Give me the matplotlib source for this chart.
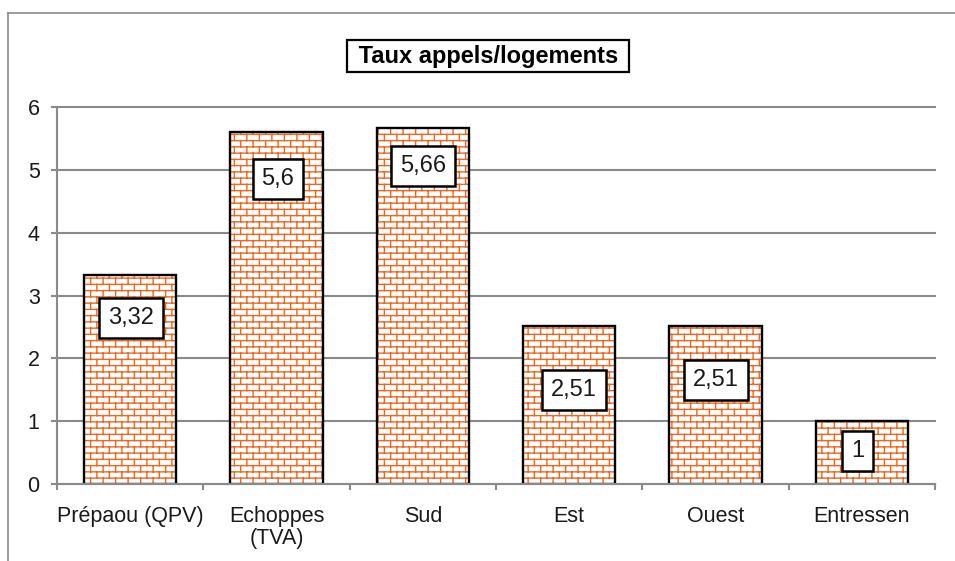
import warnings
warnings.filterwarnings("ignore")
import numpy as np
import matplotlib
matplotlib.use("Agg")
import matplotlib.pyplot as plt
import matplotlib.hatch as mhatch
from matplotlib.path import Path
from matplotlib.lines import Line2D

# ---- data ----
categories = ["Prépaou (QPV)", "Echoppes\n(TVA)", "Sud", "Est", "Ouest", "Entressen"]
values = [3.32, 5.6, 5.66, 2.51, 2.51, 1]
value_labels = ["3,32", "5,6", "5,66", "2,51", "2,51", "1"]
title = "Taux appels/logements"
yticks = [0, 1, 2, 3, 4, 5, 6]

# label placement (pixel offsets from bar top centre)
label_dx = [0.5, 1.5, 0, 5, 0.5, -4.5]
label_dy = [-42.5, -46.5, -37.5, -64, -54, -29.5]

ORANGE = "#F0661F"
GRAY = "#8a8a8a"
TXT = "#1a1a1a"


# ---- custom brick hatch ----
class BrickHatch(mhatch.HatchPatternBase):
    ROWS = 16
    COLS = 8

    def __init__(self, hatch, density):
        self.on = hatch.count("b") > 0
        if self.on:
            n_h = self.ROWS
            n_v = self.ROWS * self.COLS + self.COLS  # last row split
            self.num_vertices = 2 * (n_h + n_v)
        else:
            self.num_vertices = 0

    def set_vertices_and_codes(self, vertices, codes):
        h = 1.0 / self.ROWS
        segs = []
        for r in range(self.ROWS):
            y = (r + 0.5) * h
            segs.append(((0.0, y), (1.0, y)))
        for r in range(self.ROWS):
            off = 0.5 * (r % 2)
            for k in range(self.COLS):
                x = (k + 0.25 + off) / self.COLS
                y0 = (r + 0.5) * h
                y1 = (r + 1.5) * h
                if y1 <= 1.0:
                    segs.append(((x, y0), (x, y1)))
                else:
                    segs.append(((x, y0), (x, 1.0)))
                    segs.append(((x, 0.0), (x, y1 - 1.0)))
        for i, (a, b) in enumerate(segs):
            vertices[2 * i] = a
            vertices[2 * i + 1] = b
            codes[2 * i] = Path.MOVETO
            codes[2 * i + 1] = Path.LINETO


mhatch._hatch_types.append(BrickHatch)

plt.rcParams["font.family"] = ["Liberation Sans", "DejaVu Sans"]
plt.rcParams["hatch.linewidth"] = 1.0

fig = plt.figure(figsize=(9.55, 5.61), dpi=100)
W, H = 955, 561
ax = fig.add_axes([57 / W, 1 - 484 / H, (935 - 57) / W, (484 - 107) / H])

x = np.arange(len(categories))
bw = 0.63
ax.bar(x, values, width=bw, color="white", edgecolor=ORANGE, hatch="b",
       linewidth=0, zorder=2)
ax.bar(x, values, width=bw, fill=False, edgecolor="black", linewidth=1.7,
       zorder=3)

ax.set_xlim(-0.5, len(categories) - 0.5)
ax.set_ylim(0, 6)
ax.set_yticks(yticks)
ax.set_yticklabels([str(t) for t in yticks])

# x: ticks at boundaries, labels at centres
ax.set_xticks(np.arange(-0.5, len(categories), 1.0))
ax.set_xticklabels([])
ax.set_xticks(x, minor=True)
ax.set_xticklabels(categories, minor=True, fontsize=15.5, color=TXT,
                   linespacing=1.05)
ax.tick_params(axis="x", which="minor", length=0, pad=16)
ax.tick_params(axis="x", which="major", length=4.5, width=1.5, color=GRAY,
               direction="out")
ax.tick_params(axis="y", length=4.5, width=1.5, color=GRAY, pad=8,
               labelsize=15.5, labelcolor=TXT)

for s in ["top", "right"]:
    ax.spines[s].set_visible(False)
for s in ["left", "bottom"]:
    ax.spines[s].set_color(GRAY)
    ax.spines[s].set_linewidth(1.5)
    ax.spines[s].set_zorder(4)

ax.yaxis.grid(True, color=GRAY, linewidth=1.5, zorder=1)
ax.set_axisbelow(True)
for gl in ax.get_ygridlines():
    gl.set_clip_on(False)

for xi, v, lab, dx, dy in zip(x, values, value_labels, label_dx, label_dy):
    ax.annotate(lab, xy=(xi, v), xytext=(dx, dy), textcoords="offset pixels",
                ha="center", va="center", fontsize=17, color=TXT, zorder=5,
                bbox=dict(boxstyle="square,pad=0.38", fc="white",
                          ec="black", lw=1.8))

# title
fig.text(488 / W, 1 - 56 / H, " " + title + " ", ha="center", va="center",
         fontsize=17, fontweight="bold", color="black",
         bbox=dict(boxstyle="square,pad=0.2", fc="white", ec="black", lw=1.6))

# outer frame (top and left visible)
fig.add_artist(Line2D([8 / W, 1.0], [1 - 13 / H, 1 - 13 / H],
                      transform=fig.transFigure, color=GRAY, lw=1.2))
fig.add_artist(Line2D([8 / W, 8 / W], [1 - 13 / H, 0.0],
                      transform=fig.transFigure, color=GRAY, lw=1.2))

fig.savefig("out.png", dpi=100)
